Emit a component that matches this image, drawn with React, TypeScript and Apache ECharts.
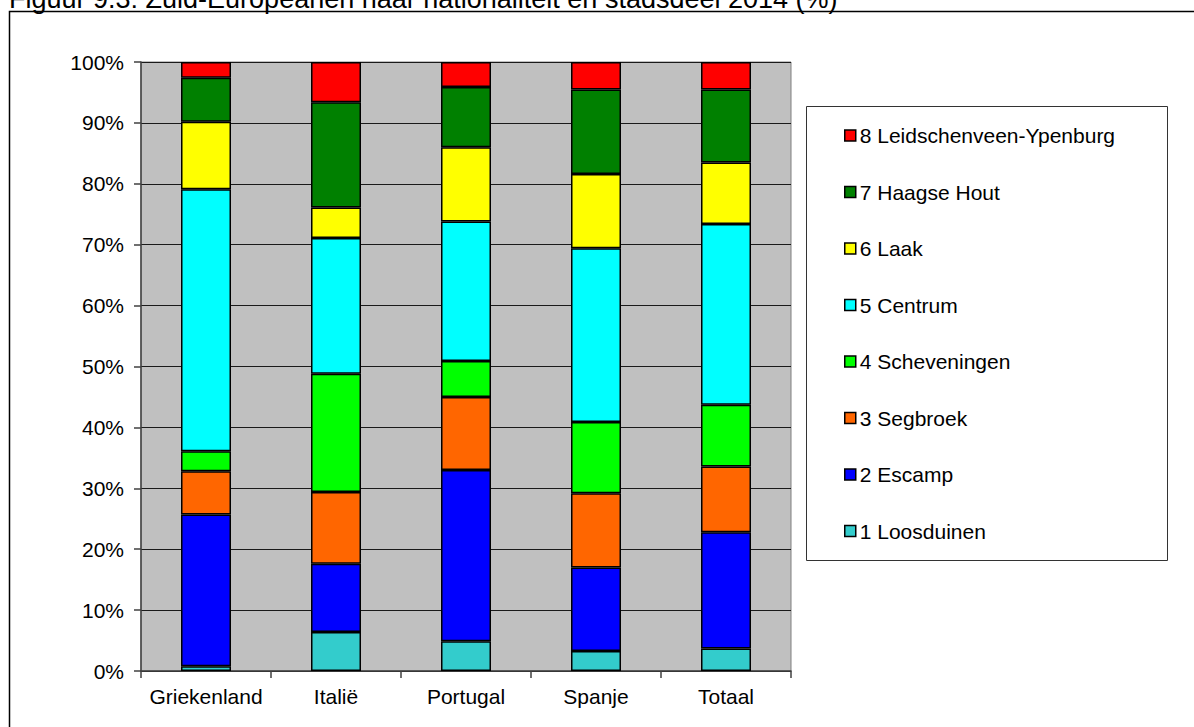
import React, { useEffect, useRef } from "react";
import * as echarts from "echarts";

const categories = ["Griekenland", "Italië", "Portugal", "Spanje", "Totaal"];
const seriesNames = [
  "1 Loosduinen",
  "2 Escamp",
  "3 Segbroek",
  "4 Scheveningen",
  "5 Centrum",
  "6 Laak",
  "7 Haagse Hout",
  "8 Leidschenveen-Ypenburg",
];
const loosduinen = [0.8, 6.4, 4.9, 3.3, 3.7];
const escamp = [24.9, 11.2, 28.1, 13.7, 19.1];
const segbroek = [7.1, 11.8, 12.0, 12.2, 10.8];
const scheveningen = [3.3, 19.4, 5.9, 11.7, 10.1];
const centrum = [43.0, 22.3, 22.9, 28.5, 29.7];
const laak = [11.1, 5.0, 12.2, 12.2, 10.1];
const haagseHout = [7.2, 17.3, 9.9, 13.9, 12.0];
const leidschenveen = [2.6, 6.6, 4.1, 4.5, 4.5];
const seriesValues = [loosduinen, escamp, segbroek, scheveningen, centrum, laak, haagseHout, leidschenveen];
const colors = ["#33CCCC", "#0000FF", "#FF6600", "#00FF00", "#00FFFF", "#FFFF00", "#008000", "#FF0000"];
const title = "Figuur 9.3: Zuid-Europeanen naar nationaliteit en stadsdeel 2014 (%)";

const FONT = "'Liberation Sans', Arial, sans-serif";

export default function App() {
  const ref = useRef<HTMLDivElement>(null);
  useEffect(() => {
    if (!ref.current) return;
    const chart = echarts.init(ref.current, undefined, { renderer: "svg" });
    chart.setOption({
      animation: false,
      backgroundColor: "#ffffff",
      textStyle: { fontFamily: FONT },
      grid: {
        left: 141,
        right: 403,
        top: 62,
        bottom: 56,
        show: true,
        backgroundColor: "#C0C0C0",
        borderColor: "#808080",
        borderWidth: 1,
      },
      graphic: [
        {
          type: "rect",
          z: 0,
          shape: { x: 9.5, y: 11.5, width: 1300, height: 900 },
          style: { fill: "none", stroke: "#000", lineWidth: 1.5 },
          silent: true,
        },
        {
          type: "rect",
          z: 0,
          shape: { x: 806.5, y: 106.5, width: 361, height: 454 },
          style: { fill: "#ffffff", stroke: "#333", lineWidth: 1 },
          silent: true,
        },
        {
          type: "text",
          z: 1,
          x: 9,
          y: -1.5,
          style: {
            text: title,
            fontFamily: FONT,
            fontSize: 27,
            fill: "#000",
            textVerticalAlign: "middle",
          },
          silent: true,
        },
      ],
      legend: {
        orient: "vertical",
        left: 844,
        top: 125,
        itemWidth: 11,
        itemHeight: 11,
        itemGap: 35.5,
        padding: 0,
        data: [...seriesNames].reverse(),
        icon: "rect",
        itemStyle: { borderColor: "#000", borderWidth: 1.5 },
        textStyle: { fontFamily: FONT, fontSize: 21, lineHeight: 20, color: "#000", padding: [0, 0, 0, -1] },
        selectedMode: false,
      },
      xAxis: {
        type: "category",
        data: categories,
        axisLine: { show: true, lineStyle: { color: "#404040", width: 1.5 } },
        axisTick: { show: true, length: 7, alignWithLabel: false, lineStyle: { color: "#404040", width: 1.5 } },
        axisLabel: { color: "#000", fontSize: 21, fontFamily: FONT, margin: 15, interval: 0 },
        splitLine: { show: false },
      },
      yAxis: {
        type: "value",
        min: 0,
        max: 100,
        interval: 10,
        axisLine: { show: true, lineStyle: { color: "#404040", width: 1.5 } },
        axisTick: { show: true, length: 7, lineStyle: { color: "#404040", width: 1.5 } },
        axisLabel: { color: "#000", fontSize: 21, fontFamily: FONT, margin: 17, formatter: "{value}%" },
        splitLine: { show: true, lineStyle: { color: "#1a1a1a", width: 1 } },
      },
      series: seriesNames.map((name, i) => ({
        name,
        type: "bar",
        stack: "total",
        barWidth: 50,
        data: seriesValues[i],
        itemStyle: { color: colors[i], borderColor: "#000", borderWidth: 1.5 },
      })),
    });
    return () => chart.dispose();
  }, []);
  return <div ref={ref} style={{ position: "fixed", left: 0, top: 0, width: 1194, height: 727 }} />;
}
